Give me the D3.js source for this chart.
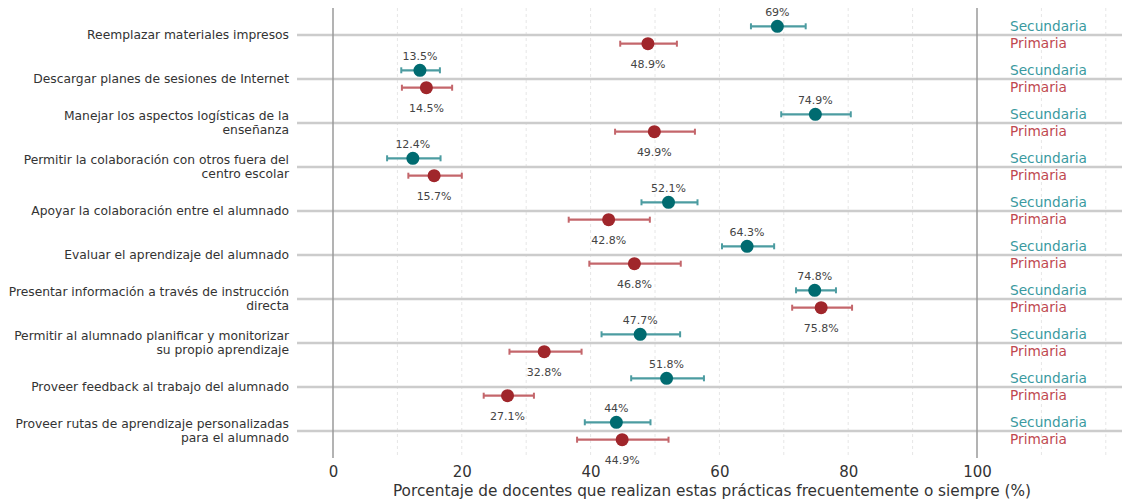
<!DOCTYPE html>
<html><head><meta charset="utf-8">
<script src="https://cdn.jsdelivr.net/npm/d3@7"></script>
<style>
html,body{margin:0;padding:0;background:#fff;}
svg{display:block;font-family:"DejaVu Sans",sans-serif;}
</style></head>
<body><svg id="chart" width="1122" height="502"></svg>
<script>
const categories = [
  "Reemplazar materiales impresos",
  "Descargar planes de sesiones de Internet",
  "Manejar los aspectos logísticas de la\nenseñanza",
  "Permitir la colaboración con otros fuera del\ncentro escolar",
  "Apoyar la colaboración entre el alumnado",
  "Evaluar el aprendizaje del alumnado",
  "Presentar información a través de instrucción\ndirecta",
  "Permitir al alumnado planificar y monitorizar\nsu propio aprendizaje",
  "Proveer feedback al trabajo del alumnado",
  "Proveer rutas de aprendizaje personalizadas\npara el alumnado"
];
const seriesNames = ["Secundaria", "Primaria"];
const secValues = [69, 13.5, 74.9, 12.4, 52.1, 64.3, 74.8, 47.7, 51.8, 44];
const secLow    = [64.9, 10.6, 69.6, 8.4, 47.9, 60.4, 71.9, 41.7, 46.3, 39.1];
const secHigh   = [73.4, 16.6, 80.4, 16.7, 56.6, 68.5, 78.1, 53.9, 57.6, 49.3];
const priValues = [48.9, 14.5, 49.9, 15.7, 42.8, 46.8, 75.8, 32.8, 27.1, 44.9];
const priLow    = [44.6, 10.7, 43.8, 11.7, 36.6, 39.8, 71.3, 27.4, 23.4, 37.9];
const priHigh   = [53.4, 18.5, 56.2, 20.0, 49.2, 54.0, 80.6, 38.6, 31.2, 52.1];
const xTicks = [0, 20, 40, 60, 80, 100];
const gridTicks = [10, 20, 30, 40, 50, 60, 70, 80, 90, 110, 120];
const xTitle = "Porcentaje de docentes que realizan estas prácticas frecuentemente o siempre (%)";

const svg = d3.select("#chart");
const x = d3.scaleLinear().domain([0, 100]).range([333, 977]);
const y = d3.scalePoint().domain(categories).range([35, 431]);
const plotLeft = 297, plotRight = 1122, plotTop = 8, plotBottom = 458;
const off = 8.7;

const col = {
  Secundaria: {dot: "#006b70", bar: "#4c9ca1", text: "#3a9aa0"},
  Primaria: {dot: "#a0262b", bar: "#c4666b", text: "#c04850"}
};

// dashed grid
svg.append("g").selectAll("line").data(gridTicks).join("line")
  .attr("x1", d => x(d)).attr("x2", d => x(d))
  .attr("y1", plotTop).attr("y2", plotBottom)
  .attr("stroke", "#e6e6e6").attr("stroke-width", 1).attr("stroke-dasharray", "3,3");

// horizontal category lines
svg.append("g").selectAll("line").data(categories).join("line")
  .attr("x1", plotLeft).attr("x2", plotRight)
  .attr("y1", d => y(d)).attr("y2", d => y(d))
  .attr("stroke", "#cccccc").attr("stroke-width", 2.5);

// solid lines at 0 and 100
svg.append("g").selectAll("line").data([0, 100]).join("line")
  .attr("x1", d => x(d)).attr("x2", d => x(d))
  .attr("y1", plotTop).attr("y2", plotBottom)
  .attr("stroke", "#9a9a9a").attr("stroke-width", 1.5);

// category labels
const lab = svg.append("g").attr("font-size", 12.3).attr("fill", "#333").attr("text-anchor", "end");
categories.forEach(c => {
  const lines = c.split("\n");
  const t = lab.append("text").attr("x", 289).attr("y", y(c));
  const lh = 14;
  lines.forEach((ln, i) => {
    t.append("tspan").attr("x", 289)
      .attr("y", y(c) + (i - (lines.length - 1) / 2) * lh)
      .attr("dy", "0.35em").text(ln);
  });
});

// series
const series = [
  {name: "Secundaria", v: secValues, lo: secLow, hi: secHigh, dy: -off, ldy: -10.5},
  {name: "Primaria", v: priValues, lo: priLow, hi: priHigh, dy: off, ldy: 24.5}
];
const fmt = v => (Number.isInteger(v) ? v : v.toFixed(1)) + "%";

series.forEach(s => {
  const g = svg.append("g");
  const data = categories.map((c, i) => ({c, v: s.v[i], lo: s.lo[i], hi: s.hi[i], yy: y(c) + s.dy}));
  g.selectAll(".eb").data(data).join("line")
    .attr("x1", d => x(d.lo)).attr("x2", d => x(d.hi))
    .attr("y1", d => d.yy).attr("y2", d => d.yy)
    .attr("stroke", col[s.name].bar).attr("stroke-width", 2.2);
  g.selectAll(".capl").data(data).join("line")
    .attr("x1", d => x(d.lo)).attr("x2", d => x(d.lo))
    .attr("y1", d => d.yy - 3).attr("y2", d => d.yy + 3)
    .attr("stroke", col[s.name].bar).attr("stroke-width", 2);
  g.selectAll(".caph").data(data).join("line")
    .attr("x1", d => x(d.hi)).attr("x2", d => x(d.hi))
    .attr("y1", d => d.yy - 3).attr("y2", d => d.yy + 3)
    .attr("stroke", col[s.name].bar).attr("stroke-width", 2);
  g.selectAll("circle").data(data).join("circle")
    .attr("cx", d => x(d.v)).attr("cy", d => d.yy).attr("r", 6.5)
    .attr("fill", col[s.name].dot);
  g.selectAll("text.val").data(data).join("text")
    .attr("x", d => x(d.v)).attr("y", d => d.yy + s.ldy)
    .attr("text-anchor", "middle").attr("font-size", 11).attr("fill", "#444")
    .text(d => fmt(d.v));
  // right-side series labels
  g.selectAll("text.leg").data(data).join("text")
    .attr("x", 1010).attr("y", d => d.yy).attr("dy", "0.35em")
    .attr("font-size", 13.7).attr("fill", col[s.name].text)
    .text(s.name);
});

// x axis
const xa = svg.append("g").attr("transform", `translate(0,${plotBottom})`)
  .call(d3.axisBottom(x).tickValues(xTicks).tickSize(0).tickPadding(8));
xa.select(".domain").remove();
xa.selectAll("text").attr("font-size", 15).attr("fill", "#333").attr("font-family", "DejaVu Sans");

svg.append("text").attr("x", 712).attr("y", 496).attr("text-anchor", "middle")
  .attr("font-size", 15.3).attr("fill", "#333").text(xTitle);
</script></body></html>
